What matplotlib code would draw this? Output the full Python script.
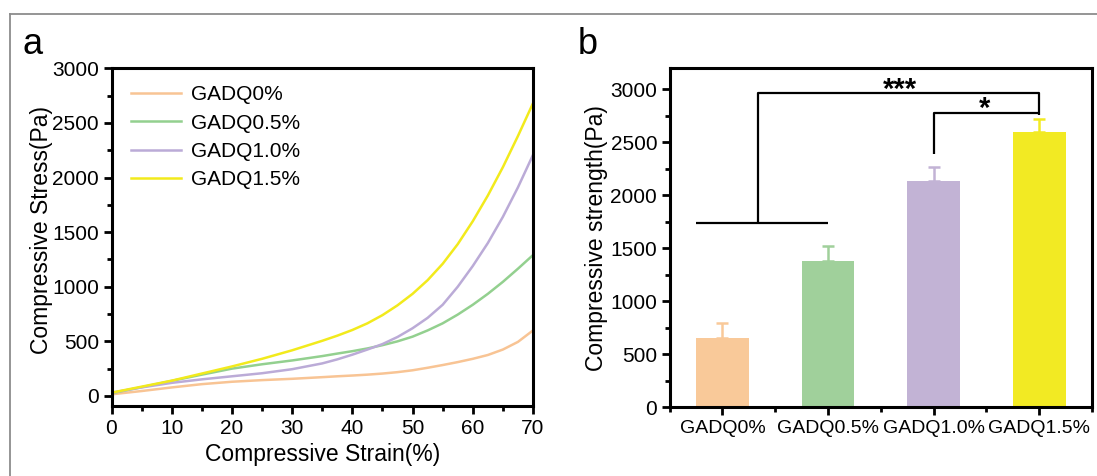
import numpy as np
import matplotlib.pyplot as plt
from matplotlib.lines import Line2D
from matplotlib.ticker import MultipleLocator

plt.rcParams["font.family"] = ["Liberation Sans", "DejaVu Sans"]

# ---------- data: panel a (stress-strain curves) ----------
strain = [0, 5, 10, 15, 20, 25, 30, 35, 37.5, 40, 42.5, 45, 47.5, 50,
          52.5, 55, 57.5, 60, 62.5, 65, 67.5, 70]
stress_0 = [15, 45, 78, 108, 130, 145, 157, 172, 180, 187, 195, 205, 218, 235,
            258, 283, 310, 340, 375, 425, 495, 600]
stress_05 = [25, 80, 138, 195, 250, 290, 325, 365, 388, 410, 435, 465, 500, 543,
             600, 665, 745, 835, 935, 1045, 1165, 1290]
stress_10 = [30, 78, 120, 152, 180, 208, 245, 298, 335, 378, 425, 475, 540, 620,
             715, 835, 1000, 1190, 1400, 1640, 1910, 2207]
stress_15 = [30, 85, 140, 205, 270, 340, 418, 505, 552, 604, 665, 740, 830, 935,
             1060, 1210, 1390, 1600, 1835, 2095, 2380, 2680]

# ---------- data: panel b (compressive strength) ----------
groups = ["GADQ0%", "GADQ0.5%", "GADQ1.0%", "GADQ1.5%"]
strength = [651, 1384, 2138, 2594]
strength_err = [148, 141, 132, 129]

line_colors = ["#F8C494", "#93D08F", "#BBABD7", "#F2EA1C"]
bar_colors = ["#F9C999", "#A0D09B", "#C2B3D5", "#F2EA23"]

fig = plt.figure(figsize=(10.97, 4.76), dpi=100)

# gray frame (top + left edges)
fig.add_artist(Line2D([10 / 1097, 1], [1 - 14 / 476, 1 - 14 / 476],
                      transform=fig.transFigure, color="#8c8c8c", lw=1.3))
fig.add_artist(Line2D([10 / 1097, 10 / 1097], [0, 1 - 14 / 476],
                      transform=fig.transFigure, color="#8c8c8c", lw=1.3))


def style_axes(ax):
    for s in ax.spines.values():
        s.set_linewidth(2.2)
    ax.tick_params(which="major", direction="out", length=6, width=2.0,
                   labelsize=15, pad=3, top=False, right=False)
    ax.tick_params(which="minor", direction="out", length=3.5, width=2.0,
                   top=False, right=False)


# ---------- panel a ----------
ax1 = fig.add_axes([111.5 / 1097, 1 - 406 / 476, 421.5 / 1097, 337.7 / 476])
series = [("GADQ0%", stress_0), ("GADQ0.5%", stress_05),
          ("GADQ1.0%", stress_10), ("GADQ1.5%", stress_15)]
for (name, vals), c in zip(series, line_colors):
    ax1.plot(strain, vals, color=c, lw=1.8, label=name)

ax1.set_xlim(0, 70)
ax1.set_ylim(-92, 3000)
ax1.xaxis.set_major_locator(MultipleLocator(10))
ax1.xaxis.set_minor_locator(MultipleLocator(5))
ax1.yaxis.set_major_locator(MultipleLocator(500))
ax1.yaxis.set_minor_locator(MultipleLocator(250))
style_axes(ax1)
ax1.set_xlabel("Compressive Strain(%)", fontsize=16.5)
ax1.set_ylabel("Compressive Stress(Pa)", fontsize=16.5)
ax1.xaxis.set_label_coords(0.5, -0.11)
ax1.yaxis.set_label_coords(-0.138, 0.52)
ax1.legend(loc="upper left", bbox_to_anchor=(0.047, 0.95), frameon=False,
           fontsize=15, handlelength=2.4, handletextpad=0.45,
           labelspacing=0.45, borderpad=0, borderaxespad=0)
fig.text(33 / 1097, 1 - 45 / 476, "a", fontsize=26, ha="center", va="center")

# ---------- panel b ----------
ax2 = fig.add_axes([669.7 / 1097, 1 - 407.3 / 476, 422.3 / 1097, 339 / 476])
x = np.arange(len(groups))
for i in range(len(groups)):
    ax2.bar(x[i], strength[i], width=0.5, color=bar_colors[i], zorder=2)
    ax2.errorbar(x[i], strength[i], yerr=[[0], [strength_err[i]]],
                 ecolor=bar_colors[i], elinewidth=1.8, capsize=4,
                 capthick=1.8, fmt="none", zorder=1)

ax2.set_xlim(-0.5, 3.5)
ax2.set_ylim(0, 3200)
ax2.set_xticks(x)
ax2.set_xticklabels(groups)
ax2.xaxis.set_minor_locator(MultipleLocator(0.5))
ax2.yaxis.set_major_locator(MultipleLocator(500))
ax2.yaxis.set_minor_locator(MultipleLocator(250))
style_axes(ax2)
ax2.tick_params(axis="x", labelsize=14)
ax2.set_ylabel("Compressive strength(Pa)", fontsize=16.5)
ax2.yaxis.set_label_coords(-0.147, 0.5)

# significance brackets
kw = dict(color="black", lw=1.6, solid_capstyle="butt")
ax2.plot([-0.25, 1.0], [1742, 1742], **kw)
ax2.plot([0.34, 0.34, 3.0, 3.0], [1742, 2968, 2968, 2760], **kw)
ax2.plot([2.0, 2.0, 3.0], [2390, 2774, 2774], **kw)
ax2.text(1.68, 3000, "***", fontsize=21, fontweight="bold", ha="center", va="center")
ax2.text(2.48, 2815, "*", fontsize=21, fontweight="bold", ha="center", va="center")

fig.text(588 / 1097, 1 - 45 / 476, "b", fontsize=26, ha="center", va="center")

fig.savefig("out.png", dpi=100)
